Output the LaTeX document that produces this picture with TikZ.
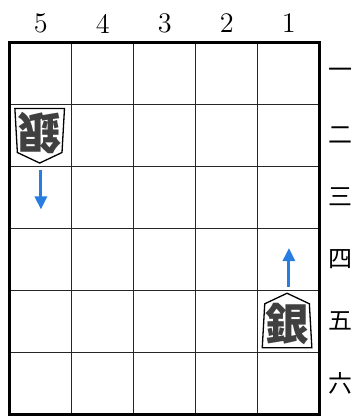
\documentclass[tikz,border=0pt]{standalone}
\usepackage{fontspec}
\newfontfamily\cjk{Noto Sans CJK JP}
\usetikzlibrary{arrows.meta}
\definecolor{yajirushi}{RGB}{40,125,225}
\tikzset{
	banline/.style={line width=0.5pt, color=black!85},
	wakuline/.style={line width=1.4pt},
	sujitext/.style={font=\fontsize{13}{15}\selectfont},
	dantext/.style={font=\fontsize{11}{13}\cjk},
	komaline/.style={line width=0.6pt, fill=white},
	komatext/.style={font=\fontsize{20}{22}\cjk\bfseries, color=black!75},
	ido/.style={line width=1.4pt, color=yajirushi, -{Triangle[length=6pt,width=5.5pt]}}
}
% piece: name, centre, rotation
\def\koma#1(#2)#3{
	\begin{scope}[shift={(#2)}, rotate=#3]
		\draw[komaline] (-0.4,-0.43) -- (-0.36,0.28) -- (0,0.45) -- (0.36,0.28) -- (0.4,-0.43) -- cycle;
		\node[komatext, rotate=#3] (#1) at (0,-0.04) {銀};
	\end{scope}
}
\begin{document}
\begin{tikzpicture}
		\useasboundingbox (-0.16,-6.03) rectangle (5.6,0.68);
		
		% grid
		\foreach \i in {1,...,4}
			\draw[banline] (\i,0) -- (\i,-6);
		\foreach \j in {1,...,5}
			\draw[banline] (0,-\j) -- (5,-\j);
		\draw[wakuline] (0,0) rectangle (5,-6);
		
		% column numbers
		\foreach \s [count=\i from 0] in {5,4,3,2,1}
			\node[sujitext] (suji\s) at (\i+0.5,0.3) {\s};
		
		% row numbers
		\foreach \d [count=\j from 0] in {一,二,三,四,五,六}
			\node[dantext] (dan\j) at (5.33,-\j-0.5) {\d};
		
		% pieces
		\koma{ginGote}(0.48,-1.5){180}
		\koma{ginSente}(4.47,-4.5){0}
		
		% moves
		\coordinate (goteFrom) at (0.5,-2.06);
		\coordinate (goteTo) at (0.5,-2.7);
		\coordinate (senteFrom) at (4.5,-3.95);
		\coordinate (senteTo) at (4.5,-3.32);
		\draw[ido] (goteFrom) -- (goteTo);
		\draw[ido] (senteFrom) -- (senteTo);
		
\end{tikzpicture}
\end{document}
